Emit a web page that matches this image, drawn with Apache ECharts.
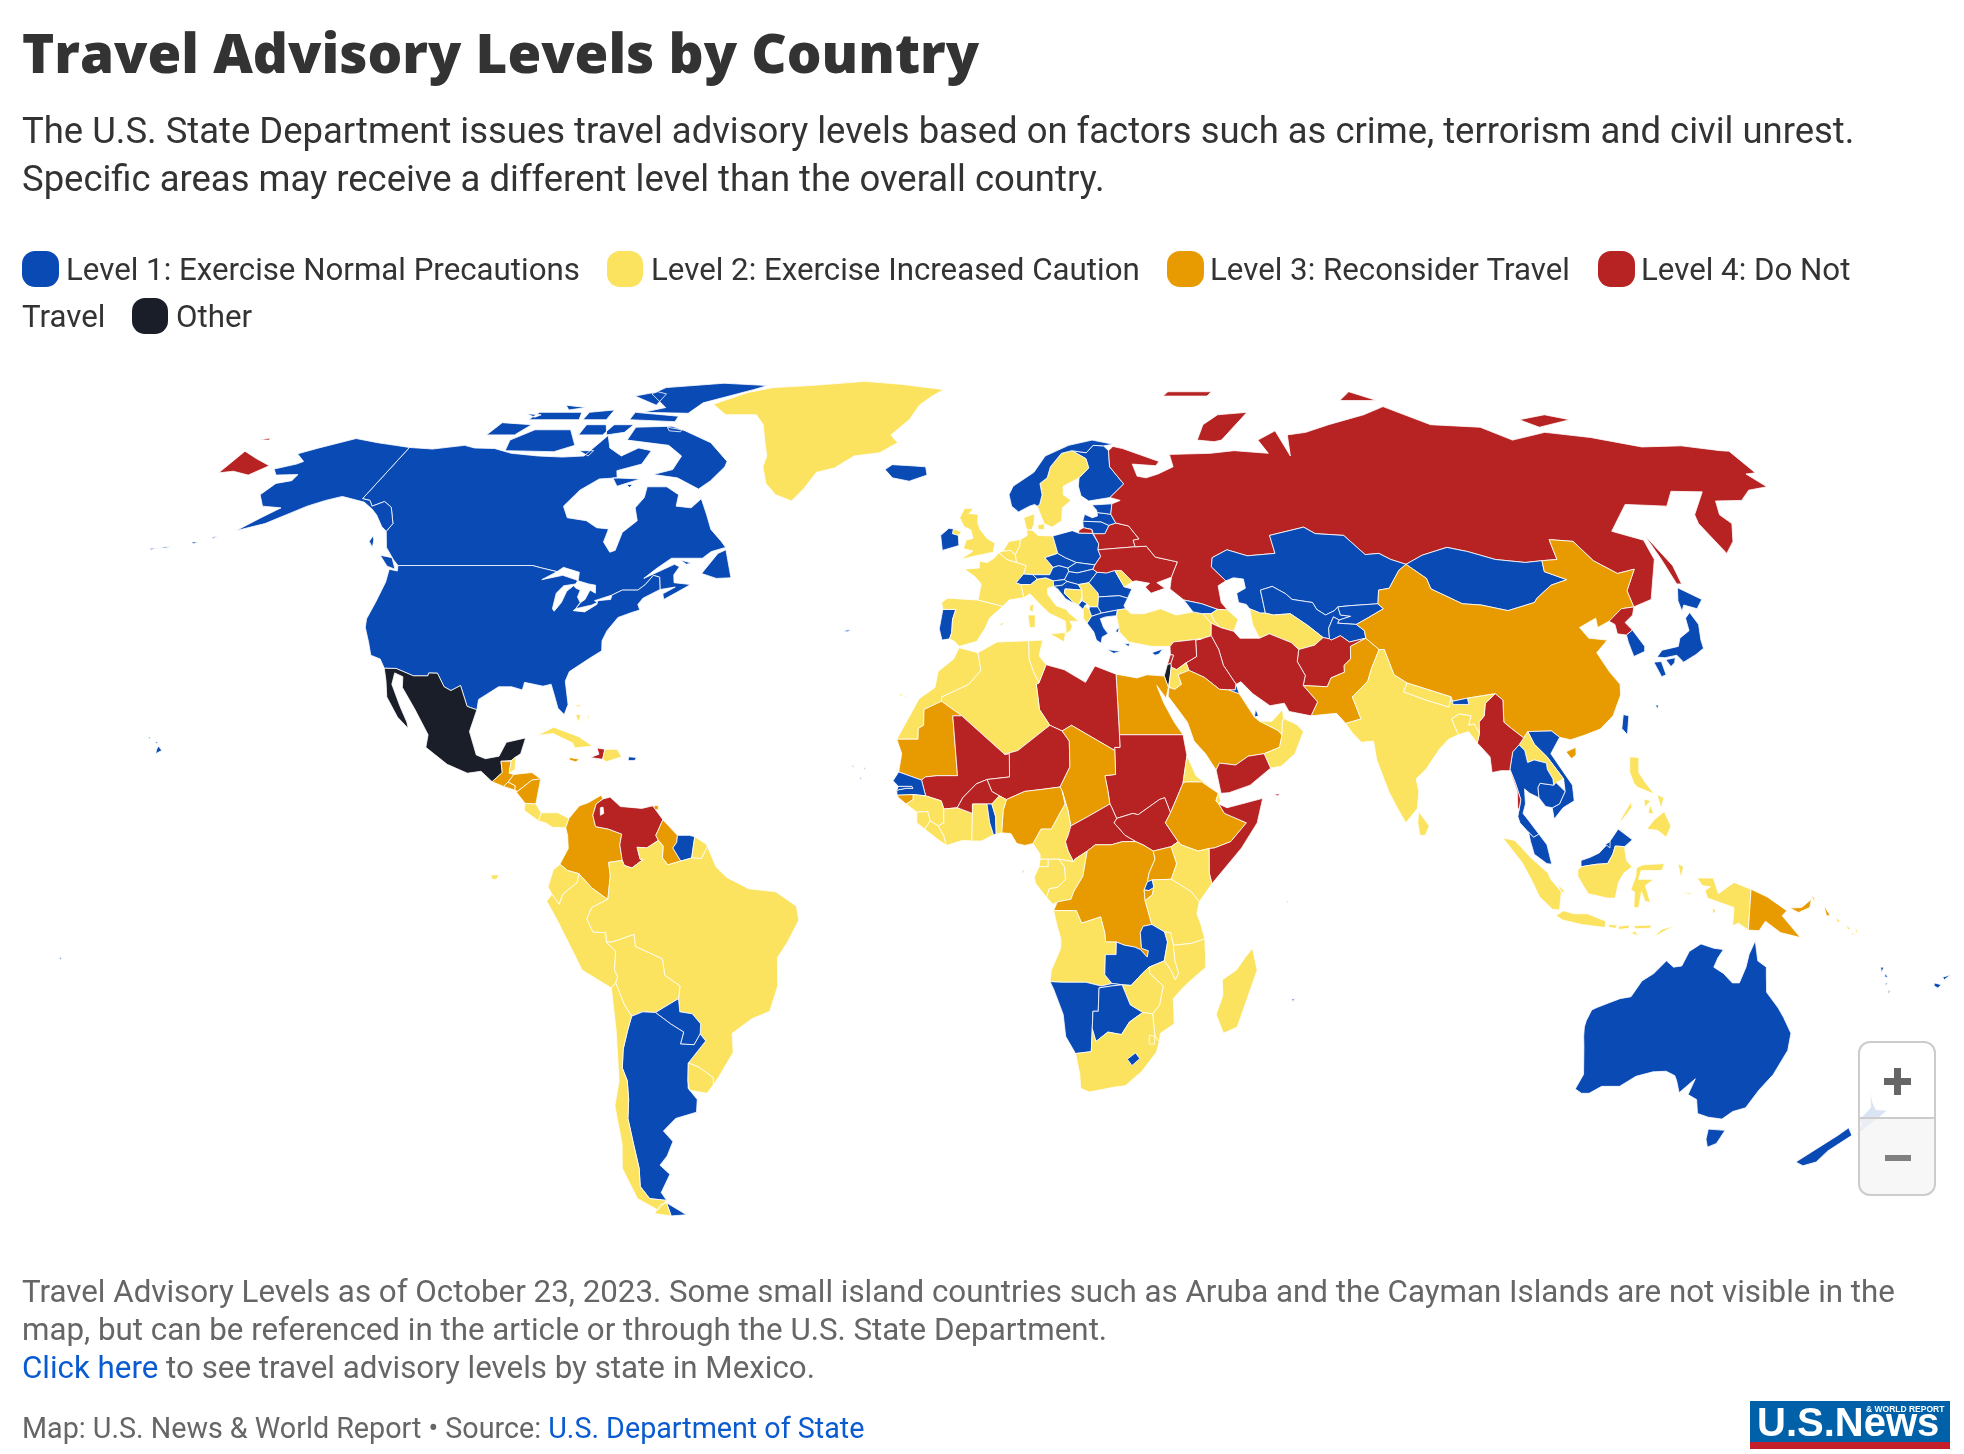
<!DOCTYPE html>
<html><head><meta charset="utf-8">
<style>html,body{margin:0;padding:0;background:#fff}#c{width:1964px;height:1454px}</style>
<script src="https://cdn.jsdelivr.net/npm/echarts@6/dist/echarts.min.js"></script>
</head><body><div id="c"></div>
<script>
const titleText='Travel Advisory Levels by Country';
const subtitleLines=['The U.S. State Department issues travel advisory levels based on factors such as crime, terrorism and civil unrest.','Specific areas may receive a different level than the overall country.'];
const legendNames=['Level 1: Exercise Normal Precautions','Level 2: Exercise Increased Caution','Level 3: Reconsider Travel','Level 4: Do Not','Travel','Other'];
const levelColors=['#0A4AB5','#FBE25F','#E89B00','#B72222','#1A1E29'];
const level1=['United States','Canada','Australia','New Zealand','Iceland','Ireland','Norway','Finland','Estonia','Latvia','Lithuania','Poland','Czechia','Slovakia','Hungary','Austria','Slovenia','Croatia','Switzerland','Portugal','Romania','Bulgaria','Greece','Cyprus','Montenegro','North Macedonia','Georgia','Kazakhstan','Uzbekistan','Kyrgyzstan','Tajikistan','Mongolia','South Korea','Japan','Taiwan','Vietnam','Thailand','Cambodia','Malaysia','Brunei','Bhutan','Kuwait','Qatar','Paraguay','Argentina','Suriname','Senegal','Gambia','Togo','Rwanda','Zambia','Namibia','Botswana','Lesotho','Fiji','Vanuatu','Puerto Rico','Mauritius','Cape Verde','Sao Tome','Seychelles','Samoa'];
const level2=['Greenland','Spain','France','Belgium','Netherlands','Germany','Denmark','United Kingdom','Italy','Sweden','Serbia','Bosnia','Albania','Moldova','Turkey','Armenia','Azerbaijan','Turkmenistan','Jordan','UAE','Oman','Tunisia','Algeria','Morocco','Guinea','Sierra Leone','Liberia','Ivory Coast','Ghana','Benin','Cameroon','Equatorial Guinea','Gabon','Congo','Eritrea','Djibouti','Kenya','Tanzania','Angola','Malawi','Mozambique','Zimbabwe','South Africa','Eswatini','Madagascar','India','Nepal','Bangladesh','Sri Lanka','Laos','Indonesia','Philippines','Solomon Islands','Belize','Costa Rica','Panama','Cuba','Dominican Republic','Bahamas','French Guiana','Ecuador','Peru','Brazil','Bolivia','Chile','Uruguay'];
const level3=['Guatemala','El Salvador','Honduras','Nicaragua','Jamaica','Trinidad','Colombia','Guyana','Mauritania','Guinea-Bissau','Nigeria','Chad','Egypt','Saudi Arabia','Ethiopia','Democratic Republic of the Congo','Uganda','Burundi','Pakistan','China','Papua New Guinea'];
const level4=['Russia','Belarus','Ukraine','Iran','Iraq','Syria','Lebanon','Afghanistan','Yemen','Libya','Mali','Niger','Burkina Faso','Sudan','South Sudan','Central African Republic','Somalia','Myanmar','North Korea','Venezuela','Haiti'];
const otherLevel=['Mexico','Israel'];
const noteLines=['Travel Advisory Levels as of October 23, 2023. Some small island countries such as Aruba and the Cayman Islands are not visible in the','map, but can be referenced in the article or through the U.S. State Department.'];
const outlines={
'Canada':"-141,69.6;-135,69.3;-128,70;-125,69.5;-120,69.4;-115,68.5;-108,68;-102,67.8;-97,68;-94.5,71.9;-92,69.5;-88,68;-85,69.5;-81.5,69;-82,66.5;-87,65.3;-86,64;-90,63.8;-93,61.8;-94.7,59;-92.5,57;-88,56.5;-85,55.3;-82.3,55.1;-82.2,52.9;-80,51.2;-79,51.5;-79,54.5;-76.8,56.5;-78.5,58.7;-77.5,60.5;-78,62.4;-73.5,62.4;-70,61;-69.5,59;-66,58.7;-64.5,60.3;-62,57.5;-60,55;-57,53;-55.7,52;-58.5,51.3;-60,50.2;-66.5,50.2;-69,48.5;-71,46.9;-65.5,49.2;-64.3,48.8;-65,47.5;-64.5,46.2;-61,45.9;-63.5,44.6;-65.7,43.5;-66.2,44.4;-64,45.5;-67,45.1;-67.8,47.1;-69.2,47.4;-70.3,45.9;-71.5,45;-74.7,45;-76.5,44.2;-79.7,43.3;-79,43;-79,42.85;-80,42.6;-83,42;-82.4,43;-81.7,43.5;-81.3,45;-80,44.5;-80.5,45.8;-82,46;-84.4,46.5;-84.8,47.9;-88.5,48.7;-89.5,48;-93,48.6;-95.15,49;-123.3,49;-125,50;-128,52;-130.3,54.7;-130,56;-133,58.8;-135.5,59.8;-137.5,59;-139,60;-141,60.3|-123.5,48.4;-125.5,48.9;-128.3,50.7;-125.5,50.3|-59.3,47.7;-57,51;-55.5,51.6;-53,47;-56,46.9|-62,66;-64,63.5;-66,62;-72,64;-78,64.6;-74,65.5;-73.5,68;-78,70;-89,71;-89,73.5;-80,73.7;-76,72.8;-68,70.5;-62,67|-117,69;-105,68.8;-101,70;-105,73;-114,73;-118,71|-125,72;-118,72;-116,74;-124,74.4|-90,76.5;-78,76.3;-76,78.5;-65,81.5;-62,82.5;-75,83.1;-90,82;-92,80.5;-85,77.5|-92,75;-80,74.6;-80,75.7;-92,76.5|-96,80;-88,78;-88,80.5;-91,81|-118,75;-105,75;-106,76.5;-117,76.5|-102,72;-96,72;-95,74;-102,74|-97,74;-90,74;-91,72.5;-95,72|-87,64;-80.5,63.8;-85,62.5|-104,75;-98,75;-98,77;-104,76.5|-132.5,54;-131.7,53.2;-131,52;-132.5,53|-99,69;-95.5,69;-96,68|-64.5,49.9;-62,49.4;-63,49.2|-83,62.8;-81.5,62.8;-82,62.3|-81,73.5;-77,73;-77,72.6;-80,72.8|-112,78;-106,77.5;-110,77|-120,76.2;-116,76;-117,75.5",
'United States':"-123.3,49;-95.15,49;-93,48.6;-89.5,48;-92,46.7;-88,47.4;-85,46.7;-84.5,46.5;-84.7,46;-87,45.7;-88,44.5;-87.7,42;-87.2,41.6;-86.3,43;-86,44.8;-85,45.7;-84.3,45.3;-83.3,45;-83.4,43.9;-82.5,43;-83,42;-83.4,41.7;-81,41.5;-79,42.7;-79,43.3;-76.5,43.5;-76.5,44.2;-74.7,45;-71.5,45;-70.3,45.9;-69.2,47.4;-67.8,47.1;-67,45.1;-70,43.7;-70.7,42.7;-70,41.8;-71.5,41.4;-74,40.6;-75.5,38.5;-76,36.9;-75.6,35.3;-77.5,34.2;-81,32;-81.4,30.5;-80,26.8;-80.4,25.2;-81.8,26.2;-82.8,28;-84,30;-85.5,29.7;-89.2,30.3;-89.3,29.1;-91.5,29.6;-94,29.6;-97.3,27.6;-97.2,25.95;-99.2,26.5;-101.4,29.8;-103,29;-104.5,29.6;-106.5,31.75;-108.2,31.78;-108.2,31.33;-111,31.33;-114.8,32.5;-117.1,32.53;-118.5,34;-120.6,34.6;-122,36.7;-123.8,39;-124.3,40.4;-124,43;-124,46.3;-124.7,48.4;-122.8,48.1|-141,69.6;-141,60.3;-139,60;-137.5,59;-135.5,59.8;-133,58.8;-130,56;-130.3,54.7;-132,55.5;-135,57.5;-137,58.5;-140,59.7;-146,60.7;-149,60;-152,59;-154,58;-158,56;-163,54.8;-160,57;-157.5,58.7;-162,59;-165,61;-164,63;-161,63.5;-161,64.6;-166,64.5;-168,65.6;-164,66.5;-163,67;-166.5,68.4;-163,69.5;-156.5,71.3;-150,70.5;-145,70|-156,19;-155,19.5;-155.8,20.2;-156,19.7|-158.2,21.5;-157.7,21.4;-158,21.7|-156.7,20.9;-156,20.8;-156.4,20.6|-167,53.6;-166,54;-166.5,53.5|-170.5,52.9;-169,52.9;-169.8,52.6|-176.5,52;-174,52.2;-175,51.9|-178.5,51.8;-177,51.9;-177.6,51.6",
'Greenland':"-73,78.2;-68,76;-60,76;-57,74;-55,71;-53,68;-53,66;-51,63;-48,61;-44,59.9;-42,62;-40,65;-36,65.8;-32,68;-26,68.6;-22,70.5;-24,72;-20,75;-18,78;-15,80;-12,81.5;-24,82.8;-35,83.6;-50,82.5;-60,82;-66,80.8",
'Iceland':"-24,65.5;-22,64;-18,63.4;-14,64.5;-14.5,66;-18,66.2;-22.5,66.4",
'Mexico':"-117.1,32.53;-114.8,32.5;-111,31.33;-108.2,31.33;-108.2,31.78;-106.5,31.75;-104.5,29.6;-103,29;-101.4,29.8;-99.2,26.5;-97.2,25.95;-97.8,22.5;-95.8,18.8;-94,18.2;-91.5,18.6;-90.5,20.8;-87,21.5;-87.5,19;-88.3,18.5;-89.1,17.9;-91,17.8;-90.5,16;-92.2,14.55;-94.5,16.2;-97,15.9;-101,17.3;-105.5,20;-105.5,22;-109,26;-112.5,29.5;-113,31.2;-114.8,31.8;-114.7,30;-112,26.5;-110,24;-109.5,23;-112,24.8;-115,28;-116,30.5",
'Guatemala':"-92.2,14.55;-90.5,16;-91,17.8;-89.1,17.8;-89.2,15.9;-88.3,15.7;-89.2,14.5;-90,13.8",
'Belize':"-89.1,17.9;-88.3,18.5;-88.2,16.5;-89.2,15.9;-89.1,17.8",
'El Salvador':"-90,13.8;-89.2,14.5;-87.8,13.9;-87.8,13.2",
'Honduras':"-89.2,14.5;-88.3,15.7;-85,16;-83.2,15;-84.8,14.8;-87.3,13;-87.8,13.2;-87.8,13.9",
'Nicaragua':"-87.6,13;-87.3,13;-84.8,14.8;-83.2,15;-83.7,11;-85.7,11.1",
'Costa Rica':"-85.7,11.1;-83.7,11;-82.6,9.6;-83,8.3;-85.8,10",
'Panama':"-83,8.3;-82.6,9.6;-79.5,9.6;-77.4,8.7;-77.9,7.2;-80.4,7.3;-81.7,8",
'Cuba':"-84.9,21.9;-82,23.2;-77,21.7;-74.2,20.2;-77.5,19.9;-78,20.7;-82,22.2",
'Jamaica':"-78.3,18.4;-76.3,18.1;-77,17.7;-78.2,18",
'Haiti':"-74.4,18.4;-72,18.1;-71.8,19.7;-73.3,19.9;-72.8,18.9",
'Dominican Republic':"-71.8,19.7;-72,18.1;-71.3,17.7;-68.5,18.5;-69.5,19.7",
'Puerto Rico':"-67.2,18.5;-65.7,18.4;-66,17.9;-67.2,17.9",
'Bahamas':"-78.2,25.2;-77.5,24;-77.2,25.2|-76,25;-75.3,24;-75.7,25|-78.8,26.7;-77.2,26.7;-78,26.4",
'Trinidad':"-61.9,10.1;-60.9,10.1;-61,10.8;-61.7,10.7",
'Colombia':"-77.9,7.2;-77.4,8.7;-75.6,10.7;-74,11.2;-71.7,12.4;-71.3,11.8;-72.5,11;-73,9.2;-72.4,7.4;-70,7;-67.5,6.2;-67.8,4.5;-67.3,2;-69.8,1.7;-69.5,-0.5;-70,-4.2;-70.7,-3.8;-72.9,-2.4;-75.3,-0.1;-77.4,0.4;-78.8,1.4;-77.3,3.9;-77.5,6",
'Venezuela':"-72.5,11;-71.3,11.8;-70,12.1;-68,10.6;-64,10.3;-62,10.7;-60,8.5;-60.7,7;-61.2,6;-60.7,5.2;-62.8,4;-64.6,4.1;-64,2.2;-63.4,2.2;-65.5,0.8;-66.9,1.2;-67.3,2;-67.8,4.5;-67.5,6.2;-70,7;-72.4,7.4;-73,9.2^-71.6,9.2;-71,9.5;-71.2,10.5;-71.7,10.4",
'Guyana':"-60,8.5;-57.2,6;-57.3,4.9;-58,4;-56.5,1.9;-58.9,1.3;-59.9,2.4;-59.8,4.3;-60.7,5.2;-61.2,6;-60.7,7",
'Suriname':"-57.2,6;-55,6;-54,5.8;-54.5,2.4;-56.5,1.9;-58,4;-57.3,4.9",
'French Guiana':"-54,5.8;-52,4.7;-51.6,4.2;-52.7,2.3;-54.5,2.4",
'Ecuador':"-78.8,1.4;-77.4,0.4;-75.3,-0.1;-75.6,-1.5;-78.3,-3.4;-79,-5;-80.3,-3.4;-81,-2.2;-80,0.5|-91.5,-0.3;-90,-0.3;-90.5,-1;-91.4,-1",
'Peru':"-81.3,-4.5;-80.3,-3.4;-79,-5;-78.3,-3.4;-75.6,-1.5;-75.3,-0.1;-72.9,-2.4;-70.7,-3.8;-70,-4.2;-73,-5.5;-74,-7.3;-73,-9.4;-70.6,-9.5;-70.6,-11;-69,-12.5;-69.5,-15.5;-69,-16.5;-69.5,-17.5;-70.4,-18.3;-75.5,-15.5;-77.2,-12;-79.5,-7.5",
'Brazil':"-51.6,4.2;-50,1;-48,-0.7;-44,-2.5;-39,-3;-35.2,-5.3;-34.8,-7.5;-37,-11;-39,-13.5;-39.2,-18;-41,-22;-44.5,-23.2;-48.5,-25.5;-48.7,-28.5;-52,-32.3;-53.4,-33.7;-53.2,-32.5;-55.8,-30.8;-57.6,-30.2;-53.7,-26.7;-54.6,-25.6;-54.3,-24;-55.7,-22.4;-58,-22.1;-58,-20;-57.5,-18;-60.2,-16.3;-60.4,-13.7;-65.3,-11.7;-65.4,-9.8;-69.5,-11;-70.6,-11;-70.6,-9.5;-73,-9.4;-74,-7.3;-73,-5.5;-70,-4.2;-69.5,-0.5;-69.8,1.7;-67.3,2;-66.9,1.2;-65.5,0.8;-63.4,2.2;-64,2.2;-64.6,4.1;-62.8,4;-60.7,5.2;-59.8,4.3;-59.9,2.4;-58.9,1.3;-56.5,1.9;-54.5,2.4;-52.7,2.3",
'Bolivia':"-69.5,-11;-65.4,-9.8;-65.3,-11.7;-60.4,-13.7;-60.2,-16.3;-57.5,-18;-58,-20;-62.6,-22.2;-65,-22.1;-67.2,-22.8;-68.3,-21;-69.5,-17.5;-69,-16.5;-69.5,-15.5;-69,-12.5;-70.6,-11",
'Paraguay':"-58,-20;-58,-22.1;-55.7,-22.4;-54.3,-24;-54.6,-25.6;-56,-27.3;-58.6,-27.2;-57.7,-25.3;-60,-24;-62.6,-22.2",
'Argentina':"-67.2,-22.8;-65,-22.1;-62.6,-22.2;-60,-24;-57.7,-25.3;-58.6,-27.2;-56,-27.3;-54.6,-25.6;-53.7,-26.7;-57.6,-30.2;-58.2,-33;-58.4,-34.2;-57,-36;-57.6,-38;-62,-39;-65,-41;-63.6,-42.7;-65.5,-45;-67.5,-46.5;-66,-48;-69,-51;-68.4,-52.3;-71.9,-52;-73,-50;-72,-47;-71.7,-43;-71.5,-39;-70.5,-36;-70,-33;-70.5,-31;-69.7,-28;-68.3,-25|-68.6,-52.7;-68.6,-54.9;-65.2,-54.7",
'Chile':"-69.5,-17.5;-68.3,-21;-67.2,-22.8;-68.3,-25;-69.7,-28;-70.5,-31;-70,-33;-70.5,-36;-71.5,-39;-71.7,-43;-72,-47;-73,-50;-71.9,-52;-68.4,-52.3;-71,-53.9;-74.5,-52;-75.5,-47;-74,-43;-73.5,-37;-71.6,-33;-70.5,-25;-70.4,-18.3|-68.6,-52.7;-68.6,-54.9;-72,-54.5;-70,-53",
'Uruguay':"-57.6,-30.2;-55.8,-30.8;-53.2,-32.5;-53.4,-33.7;-54.9,-35;-58.2,-34.5;-58.2,-33",
'Portugal':"-8.9,41.9;-6.3,41.9;-6.9,40.3;-7,38.2;-7.4,37.2;-8.9,37;-9.5,38.8|-28.5,38.5;-27,38.7;-27.8,38.3",
'Spain':"-9.2,43;-8,43.7;-1.8,43.4;3.2,42.4;0.5,40.5;-0.3,39;-2,36.8;-5.5,36;-6.4,36.8;-7.4,37.2;-7,38.2;-6.9,40.3;-6.3,41.9;-8.9,41.9|-16.8,28.4;-16.2,28.5;-16.6,28|-15.8,28.2;-15.3,28;-15.6,27.8|2.4,39.6;3.4,39.8;3,39.3",
'France':"-1.8,43.4;3.2,42.4;4.5,43.4;7.5,43.8;7,45.9;6,46.2;7.6,47.6;8.2,49;6.2,49.5;4.2,50;2.5,51.1;1.5,50.2;0,49.5;-1.6,49.7;-1.6,48.6;-4.7,48.4;-2.5,47.2;-1.2,46|8.6,41.8;9.2,41.4;9.5,42.8;8.7,42.5",
'Belgium':"2.5,51.1;3.4,51.4;5,51.5;6,50.8;6.2,49.5;4.2,50",
'Netherlands':"3.4,51.4;4.7,53;7.2,53.3;7,52.2;6,50.8;5,51.5",
'Germany':"7.2,53.3;8.7,54;8.6,55;10,54.8;11,54;14.2,53.9;14.7,52.1;15,51;12.2,50.3;13.8,48.7;13,47.5;7.6,47.6;8.2,49;6.2,49.5;6,50.8;7,52.2",
'Denmark':"8.6,55;8.1,57;10.5,57.7;10.3,56;9.7,54.9|11,55.7;12.5,56;12.5,55;11.2,55",
'United Kingdom':"-5.5,50;-3,50.5;1.3,51.2;1.7,52.7;0,53.5;-1.5,55;-2,56;-2,57.6;-4,57.7;-3,58.6;-5,58.6;-6,57;-5,55.5;-3.5,54.9;-3,53.5;-4.5,53.2;-5,51.8;-3,51.4|-7.3,55.1;-5.5,54.6;-6.2,54;-7.5,54.3",
'Ireland':"-6.2,54;-6,52.3;-9.5,51.5;-10,54;-8.3,55.2;-7.3,55.1;-7.5,54.3",
'Switzerland':"6,46.2;7,45.9;9,45.9;10.4,46.8;9.5,47.5;7.6,47.6",
'Italy':"7.5,43.8;8.8,44.4;10.5,42.9;12.5,41.3;15.7,40;15.7,38;16.6,38.5;17,39.2;16.6,40;18.4,40;16.5,41.3;16,41.9;14,42.5;12.4,44.3;12.4,45.3;13.7,45.6;13.7,46.5;12.2,47;10.4,46.8;9,45.9;7,45.9|12.5,38;15.6,38.2;15.2,36.7|8.2,41;9.7,41;9.6,39;8.5,39",
'Austria':"9.5,47.5;10.4,46.8;12.2,47;13.7,46.5;16,46.7;17,48;16.9,48.6;15,49;13.8,48.7;13,47.5",
'Czechia':"12.2,50.3;15,51;16.5,50.3;18.8,49.5;16.9,48.6;15,49;13.8,48.7",
'Poland':"14.2,53.9;18.5,54.8;19.8,54.4;22.8,54.35;23,54.3;23.9,52.6;23.6,51.6;24,50.5;22.6,49.1;18.8,49.5;16.5,50.3;15,51;14.7,52.1",
'Slovakia':"16.9,48.6;18.8,49.5;22.6,49.1;22.1,48.4;18.8,47.8;17,48",
'Hungary':"16,46.7;17,48;18.8,47.8;22.1,48.4;22.9,47.9;21,46.2;18.8,45.9;16.5,46.4",
'Slovenia':"13.7,45.6;13.7,46.5;16,46.7;16.5,46.4;15.5,45.8",
'Croatia':"13.7,45.6;15.5,45.8;16.5,46.4;18.8,45.9;19.4,45;16,45.2;15.8,44.5;17.6,43;18.5,42.5;16,43.6;14.5,45.2",
'Bosnia':"16,45.2;19.4,45;19.4,44;18.5,42.6;17.6,43;15.8,44.5",
'Serbia':"18.8,45.9;21,46.2;22.7,44.5;22.7,43.9;22.4,42.3;20.7,42.3;20.3,42.8;19.3,43.3;19.4,44;19.4,45",
'Montenegro':"18.5,42.6;19.3,43.3;20.3,42.8;19.8,42.5;19.4,41.9",
'Albania':"19.4,41.9;19.8,42.5;20.6,41.9;21,40.8;20,39.7;19.3,40.5",
'North Macedonia':"20.6,41.9;20.7,42.3;22.4,42.3;23,41.3;21,40.8",
'Romania':"21,46.2;22.9,47.9;24.9,47.8;26.6,48.2;28.2,45.5;29.7,45.2;28.6,43.7;27,44.1;22.7,43.9;22.7,44.5",
'Bulgaria':"22.7,43.9;27,44.1;28.6,43.7;27.7,42.5;28,42;26.3,41.8;23,41.3;22.4,42.3",
'Moldova':"26.6,48.2;28,48.2;30,46.4;28.2,45.5",
'Greece':"20,39.7;21,40.8;23,41.3;26.3,41.8;26,40.9;23.8,40.7;22.7,40.4;23.2,39;24,38;22.8,37.5;22.5,36.5;21.6,37;21.2,38.3|23.6,35.5;26.3,35.2;24.8,34.9|25.5,38.4;26.5,39.2;26,38.2|27,36.5;28.2,36.4;27.8,36",
'Cyprus':"32.3,35;34.5,35.6;33.7,34.8;32.9,34.6",
'Turkey':"26,40.9;26.3,41.8;28,42;29,41.2;31.5,41.2;35,42;38,41;41.5,41.5;43.4,41.2;44.8,39.7;44.4,37.7;42.4,37.2;36.8,36.7;36,36;32.5,36;30.5,36.3;28,36.7;26.3,38.3;26.2,39.5",
'Belarus':"23,54.3;25.5,54.3;26.6,55.7;28.2,56.1;30.9,55.6;32.7,53.4;31.4,53.2;31.6,52.1;23.6,51.6;23.9,52.6",
'Ukraine':"22.6,49.1;24,50.5;23.6,51.6;31.6,52.1;34,52.2;35.5,50.4;40,49.6;38.2,47.1;35,46.2;36.5,45.3;33.5,44.5;32.5,45.5;33.5,46.1;30.8,46.5;30,46.4;28,48.2;26.6,48.2;24.9,47.8;22.9,47.9;22.1,48.4",
'Lithuania':"21,55.3;21,56.4;25,56.3;26.6,55.7;25.5,54.3;23,54.3;22.8,54.35;22.8,55",
'Latvia':"21,56.4;21.6,57.6;23.2,57;24.4,57.3;24.4,57.9;27.4,57.6;28.2,56.1;26.6,55.7;25,56.3",
'Estonia':"23.5,59.2;28,59.4;27.4,57.6;24.4,57.9;24.4,58.3",
'Finland':"21.3,60.8;22.9,59.9;27.8,60.5;31.5,62.9;29,66;29.5,69;28.5,69.9;26,70;24,68.6;20.6,69;23.7,67.5;24,65.8;21.4,64;21,62.5",
'Sweden':"11.2,59;12.5,56;14.2,55.4;16.4,56.5;16.8,58.7;18.9,60;17.3,61;17.5,62.5;21.4,64;24,65.8;23.7,67.5;20.6,69;18,68.5;15,66;14,64;12.2,63;12.5,61;11.8,59.3",
'Norway':"5,61;5.5,59;7,58;9.5,59;10.7,59.3;11.2,59;11.8,59.3;12.5,61;12.2,63;14,64;15,66;18,68.5;20.6,69;24,68.6;26,70;28.5,69.9;31,70.2;26,71;20,70;14,68;11,65;6,62.5",
'Russia':"30.8,69.8;33,69.4;41,67;40,66.2;34.5,66.5;35,64.3;37,64;40,64.7;44,66;44,68.3;54,68.5;60,69;68,68.5;67,71;72.5,72.8;73,68;75,72;80,72.5;87,74;98,76;105,77.7;113,74;125,73.5;130,71;140,72.5;150,71.5;160,69.7;170,69.9;178,69;180,68.9;180,64.9;177.5,64.7;179,62.4;174,61.8;170,60;164,59.9;162,57.5;163,56;160,53;156.7,51;155.7,56;156.5,57.5;163,61.5;156,61.6;152,59;143,59.3;135.5,54.7;141,53.2;140.5,50;135,43.5;130.7,42.3;131,44.9;135,48.4;131,47.7;127.5,49.8;125.7,53;120.8,53.3;120,50;116.7,49.8;113,49.5;107,50;102,51.3;98,52;92,50.7;87.8,49.2;85,50;83,51;80,50.8;77,54;71,54.3;69,55.4;61,54;61,51;55,50.6;51,51.6;47.5,50.3;46.9,48.8;49.3,46.5;47.5,45.7;47.5,43;48.5,41.8;46.5,41.9;43.5,42.8;40,43.4;37.5,45.2;38.2,47.1;40,49.6;35.5,50.4;34,52.2;31.6,52.1;31.4,53.2;32.7,53.4;30.9,55.6;28.2,56.1;27.4,57.6;28,59.4;30,60;27.8,60.5;31.5,62.9;29,66;29.5,69|19.8,54.4;20,54.9;21,55.3;22.8,55;22.8,54.35|-180,68.9;-175,67.5;-170,66.2;-172.5,64.5;-177,65.2;-180,64.9|142,54;143.5,49;143,46;142,46;142,50|52,71;56,70.7;58,71;68,76.5;60,76;55,74|95,79;105,79;100,81|-180,71;-178,71.4;-177.5,71|137,75;145,76;150,75;140,73.5|48,80;60,80;62,81;50,81",
'Georgia':"40,43.4;43.5,42.8;46.5,41.9;45,41.2;43.4,41.2;41.5,41.5",
'Armenia':"43.4,41.2;45,41.2;45.5,40;46.5,39;44.8,39.7",
'Azerbaijan':"45,41.2;46.5,41.9;48.5,41.8;50.3,40.3;49,38.4;46.5,39;45.5,40",
'Kazakhstan':"46.9,48.8;49.3,46.5;51,47;53,46.8;53,45.3;51,44.5;51,43;52.5,42.7;53,42;55,41.3;56,41.3;56,45;58.6,45.6;61,44.4;62,43.5;66,43;66.5,41.9;68,41;70,41.7;70.9,42.3;73.5,42.5;79.2,42.8;80.2,45;82.5,45.3;85.8,48.2;87.8,49.2;85,50;83,51;80,50.8;77,54;71,54.3;69,55.4;61,54;61,51;55,50.6;51,51.6;47.5,50.3",
'Uzbekistan':"56,41.3;56,45;58.6,45.6;61,44.4;62,43.5;66,43;66.5,41.9;68,41;70,41.7;70.9,42.3;71,41;73,40.8;70.5,40.2;69.5,40.7;68,38.9;67.7,37.2;66.5,37.4;64,39.3;61,41.2;57.5,41",
'Turkmenistan':"53,42;55,41.3;56,41.3;57.5,41;61,41.2;64,39.3;66.5,37.4;64.5,36.2;61.2,35.5;60,36.6;56,38;53.9,37.3;53,39.5;53,41",
'Kyrgyzstan':"70.9,42.3;73.5,42.5;79.2,42.8;80,42;76,40.4;73.7,39.5;70,39.7;70.5,40.2;73,40.8;71,41",
'Tajikistan':"67.7,37.2;68,38.9;69.5,40.7;70.5,40.2;70,39.7;73.7,39.5;75,38.5;74.9,37.3;71.5,36.7;70,37.7;68,37",
'Afghanistan':"60.5,33.6;61.2,35.5;64.5,36.2;66.5,37.4;67.7,37.2;68,37;70,37.7;71.5,36.7;74.9,37.3;71.5,36;71,34;69.5,33;69.3,31.9;66.5,31;65.5,29.6;60.9,29.8;61.6,31.4",
'Pakistan':"61.6,25;66.5,25.4;68,23.8;71,24.5;70,28;73.5,30.5;74.7,32.5;77,35.5;74.9,37.3;71.5,36;71,34;69.5,33;69.3,31.9;66.5,31;65.5,29.6;60.9,29.8;63.2,27.2",
'Iran':"44.8,39.7;46.5,39;49,38.4;50,37.3;53.9,37.3;56,38;60,36.6;61.2,35.5;60.5,33.6;61.6,31.4;60.9,29.8;63.2,27.2;61.6,25;57.5,25.7;56.8,27;54,26.6;51,28.5;49,30.4;48,30;46,33;45.5,35.5;44.4,37.7",
'Iraq':"38.8,33.4;41,34.4;41.2,37;42.4,37.2;44.4,37.7;45.5,35.5;46,33;48,30;47.7,29.1;46.5,29.1;44.7,29.2;42,31.1;39.2,32.2",
'Syria':"36,36;36.8,36.7;42.4,37.2;41.2,37;41,34.4;38.8,33.4;36.8,32.3;35.8,32.7;35.8,33.3;36.5,34.6;35.9,34.7",
'Lebanon':"35.9,34.7;36.5,34.6;35.8,33.3;35.1,33.1",
'Israel':"34.3,31.3;34.9,29.5;35,29.5;35.5,31.5;35.8,32.7;35.8,33.3;35.1,33.1",
'Jordan':"35,29.5;36.1,29.2;37.5,30;37,31.5;39.2,32.2;38.8,33.4;36.8,32.3;35.8,32.7;35.5,31.5",
'Saudi Arabia':"34.7,28.1;35,29.5;36.1,29.2;37.5,30;37,31.5;39.2,32.2;42,31.1;44.7,29.2;46.5,29.1;48.4,28.5;49.5,26.8;50.8,24.8;51.6,24.2;55,22.7;55.7,22;55,20;52,19;49,18.6;46.5,17.2;43.5,17.5;42.8,16.4;41,19;39,21;38,24;36,26.5",
'Kuwait':"46.5,29.1;47.7,29.1;48,30;48.4,28.5",
'Qatar':"50.8,24.8;51.2,26.1;51.6,25",
'UAE':"51.6,24.2;54,24.1;56.3,26;56.3,24.6;56,24;55.7,22;55,22.7",
'Oman':"56.3,24.6;58.7,23.6;59.8,22.5;57.8,19;55,17;53,16.7;52,19;55,20;55.7,22;56,24",
'Yemen':"42.8,16.4;43.5,17.5;46.5,17.2;49,18.6;52,19;53,16.7;49,14;45,12.8;43.5,12.7|53.3,12.6;54.5,12.6;54,12.3",
'Egypt':"25,31.6;29,31;31,31.5;34.3,31.3;34.9,29.5;34.3,27.8;32.7,29.8;33.8,27;35.5,24;37,22;31.3,22;25,22",
'Sudan':"24,19.5;24,20;25,20;25,22;31.3,22;37,22;37.5,18.7;36.5,14.3;35.6,12.6;34,9.6;33,12;32,11.7;28,9.3;27,9.5;24,8.7;23,10.7;22.8,11;22.5,13;22,15.5;24,15.7",
'South Sudan':"24,8.7;27,9.5;28,9.3;32,11.7;33,12;34,9.6;33,8;35.3,5;34,4.2;30.7,3.5;29,4.4;27.5,5;25.5,6;23.5,8",
'Eritrea':"36.5,14.3;37.5,18.7;39,15.5;43,12.7;40,14.5;37,14.5",
'Ethiopia':"36.5,14.3;37,14.5;40,14.5;43,12.7;42.5,11.5;43,11;44,9.5;48,8;45,5;42,4;41,3.9;39,3.5;35.8,4.5;35.3,5;33,8;34,9.6;35.6,12.6",
'Djibouti':"43,12.7;43.4,11.5;43,11;42.5,11.5",
'Somalia':"43,11;44.5,10.4;51.2,11.9;50,8;47,4;41.5,-1.7;41,0;41,3.9;42,4;45,5;48,8;44,9.5",
'Libya':"10,30.2;11.5,33.1;15,32.3;19,30.3;21,32.9;25,31.6;25,22;25,20;24,20;24,19.5;16,23.5;14.2,22.6;11.9,23.5;10,26;9.5,30",
'Tunisia':"8.2,36.9;11,37;10.2,34.5;11.5,33.1;10,30.2;9,32;8.2,34",
'Algeria':"-1.8,35;2,36.7;8.2,36.9;8.2,34;9,32;10,30.2;9.5,30;10,26;11.9,23.5;5.8,19.5;3.3,18.9;-4.8,25;-8.7,27.3;-8.7,28;-3.5,30;-1.2,32.2",
'Morocco':"-1.8,35;-5.5,35.8;-6.5,34;-9.5,32;-10,29.5;-13,27.7;-17,21.3;-13,21.3;-13,23;-12,23.5;-12,26;-8.7,27.3;-8.7,28;-3.5,30;-1.2,32.2",
'Mauritania':"-17,21.3;-13,21.3;-13,23;-12,23.5;-12,26;-8.7,27.3;-4.8,25;-6.5,25;-5.5,15.5;-9.3,15.5;-11.5,15.3;-12.2,14.8;-16.5,16.1;-16,19",
'Mali':"-4.8,25;3.3,18.9;4.2,19;4.2,15.3;0,14.9;-2,14.2;-4.5,12;-5.5,10.4;-8,10.2;-8.5,11.5;-11.4,12.3;-12.2,14.8;-11.5,15.3;-9.3,15.5;-5.5,15.5;-6.5,25",
'Niger':"3.3,18.9;5.8,19.5;11.9,23.5;14.2,22.6;15.5,21;15.5,16.9;13.6,13.7;10,13.3;7,13;3.6,11.7;2.3,12.3;0.9,13;0,14.9;4.2,15.3;4.2,19",
'Chad':"14.2,22.6;16,23.5;24,19.5;24,15.7;22,15.5;22.5,13;22.8,11;18.7,9;15.5,7.5;15,10;14,13;13.6,13.7;15.5,16.9;15.5,21",
'Nigeria':"2.7,6.4;4.4,6.3;5.5,4.7;7,4.4;8.5,4.7;10,7;11.9,7;13.5,9.5;14.5,11;14,13;13.6,13.7;10,13.3;7,13;3.6,11.7;3,10",
'Senegal':"-17.5,14.7;-16.5,16.1;-12.2,14.8;-11.4,12.3;-13.7,12.5;-16.7,12.4;-16.8,13.2;-15,13.5;-13.8,13.5;-14,13.8;-16.5,13.8",
'Gambia':"-16.8,13.2;-15,13.5;-13.8,13.5;-14,13.8;-16.5,13.8",
'Guinea-Bissau':"-16.7,12.4;-13.7,12.5;-13.7,11.7;-15,11;-16.4,12",
'Guinea':"-13.7,12.5;-11.4,12.3;-8.5,11.5;-8,10.2;-8,8;-9,7.5;-10.5,8.3;-11,9.8;-13,9.7;-15,11;-13.7,11.7",
'Sierra Leone':"-13,9.7;-11,9.8;-10.5,8.3;-11.5,7;-13,8",
'Liberia':"-11.5,7;-10.5,8.3;-9,7.5;-8,6;-7.5,4.4;-9.3,5.5",
'Ivory Coast':"-8,8;-8,10.2;-5.5,10.4;-2.7,9.5;-2.8,5.1;-4.5,5.2;-7.5,4.4;-8,6;-9,7.5",
'Burkina Faso':"-5.5,10.4;-4.5,12;-2,14.2;0,14.9;0.9,13;2.3,12.3;0.9,11;0,11;-2.7,11;-2.7,9.5",
'Ghana':"-2.7,9.5;-2.7,11;0,11;0.5,8;1.2,6.1;-1,5.1;-2.8,5.1",
'Togo':"0,11;0.9,11;1.6,9;1.7,6.2;1.2,6.1;0.5,8",
'Benin':"0.9,11;2.3,12.3;3.6,11.7;3,10;2.7,6.4;1.7,6.2;1.6,9",
'Cameroon':"8.5,4.7;9.8,3;9.8,2.2;11.3,2.2;13.3,2.2;16,1.8;15,3.5;14.5,5;15,6;15.5,7.5;15,10;14,13;14.5,11;13.5,9.5;11.9,7;10,7",
'Central African Republic':"14.5,5;15,3.5;16,1.8;16.2,2.2;18.5,3.5;20,4.5;23,4.5;25,5;27.5,5;25.5,6;23.5,8;24,8.7;23,10.7;22.8,11;18.7,9;15.5,7.5;15,6",
'Equatorial Guinea':"9.8,2.2;11.3,2.2;11.3,1;9.6,1",
'Gabon':"8.7,-0.7;9.6,1;11.3,1;11.3,2.2;13.3,2.2;14.3,1;14.5,-1;13,-2.3;11.5,-2.5;11,-3.9;9,-1.7",
'Congo':"11,-3.9;11.5,-2.5;13,-2.3;14.5,-1;14.3,1;13.3,2.2;16,1.8;16.2,2.2;18.5,3.5;17.7,-0.5;16,-3;15.5,-4.2;13,-4.6;12.2,-5",
'Democratic Republic of the Congo':"12.3,-6;13,-4.6;15.5,-4.2;16,-3;17.7,-0.5;18.5,3.5;20,4.5;23,4.5;25,5;27.5,5;29,4.4;30.7,3.5;31,2.2;29.9,0;29.6,-1.4;29,-2.7;29.2,-4.4;30.5,-8.2;28.9,-8.5;28.4,-9.5;28.7,-12;30,-12.4;29.8,-13.4;28.5,-12.2;27.4,-11.8;25.5,-11.5;24,-11;22,-11;21.8,-9.5;21,-7;17.5,-8;16.5,-6",
'Uganda':"31,2.2;30.7,3.5;34,4.2;35,1.5;34,-1;30.5,-1.1;29.6,-1.4;29.9,0",
'Rwanda':"29.6,-1.4;30.5,-1.1;30.8,-2.3;29.9,-2.8;29,-2.7",
'Burundi':"29,-2.7;29.9,-2.8;30.8,-2.3;30.5,-3.5;29.2,-4.4",
'Kenya':"34,4.2;35.3,5;35.8,4.5;39,3.5;41,3.9;41,0;41.5,-1.7;39.2,-4.6;37.7,-3;34,-1;35,1.5",
'Tanzania':"30.5,-1.1;34,-1;37.7,-3;39.2,-4.6;38.8,-6.5;39.5,-8;40.4,-10.5;38,-11.2;35,-11.5;34.6,-11.5;34,-9.5;32.9,-9.4;30.5,-8.2;29.2,-4.4;30.5,-3.5;30.8,-2.3",
'Angola':"12.3,-6;16.5,-6;17.5,-8;21,-7;21.8,-9.5;22,-11;24,-11;24,-13;22,-13;22,-16.2;23.4,-17.6;21.4,-18;18.5,-17.4;14,-17.4;11.8,-17.3;12,-15.5;13.7,-12;13.7,-10.5;13,-8.5",
'Zambia':"22,-13;24,-13;24,-11;25.5,-11.5;27.4,-11.8;28.5,-12.2;29.8,-13.4;30,-12.4;28.7,-12;28.4,-9.5;28.9,-8.5;30.5,-8.2;32.9,-9.4;33.5,-11;33,-14;30.2,-15;29,-16;27,-17.9;25.3,-17.8;23.4,-17.6;22,-16.2",
'Malawi':"32.9,-9.4;34,-9.5;34.6,-11.5;35,-14;35.8,-16;35.2,-17;34.3,-15.5;33,-14;33.5,-11",
'Mozambique':"40.4,-10.5;40.8,-15;37,-18;35,-20;35.5,-24;33,-25.5;32.9,-26.8;32,-26;31.3,-22.4;32.5,-21;33,-18;30.4,-16;30.2,-15;33,-14;34.3,-15.5;35.2,-17;35.8,-16;35,-14;34.6,-11.5;35,-11.5;38,-11.2",
'Zimbabwe':"25.3,-17.8;27,-17.9;29,-16;30.2,-15;30.4,-16;33,-18;32.5,-21;31.3,-22.4;29.4,-22.2;27,-21",
'Namibia':"11.8,-17.3;14,-17.4;18.5,-17.4;21.4,-18;23.4,-17.6;25.3,-17.8;23.3,-18;21,-18.3;21,-22;20,-22;20,-28.4;17,-28.7;15,-26;14.4,-22.5;12.5,-18.5",
'Botswana':"21,-18.3;23.3,-18;25.3,-17.8;27,-21;29.4,-22.2;27,-23.7;25.6,-25.7;23,-25.3;20.8,-26.8;20,-24.8;20,-22;21,-22",
'South Africa':"17,-28.7;20,-28.4;20,-24.8;20.8,-26.8;23,-25.3;25.6,-25.7;27,-23.7;29.4,-22.2;31.3,-22.4;32,-26;32.9,-26.8;32.5,-28.5;30,-31.5;27,-33.8;25,-34;20,-34.8;18.3,-34.2;18,-32",
'Lesotho':"27,-29.6;28.5,-28.6;29.4,-29.5;28,-30.6",
'Eswatini':"30.9,-25.8;32,-26;32,-27.2;31,-27.2",
'Madagascar':"49.3,-12;50.4,-15.5;47.5,-24.5;45,-25.5;43.3,-22.5;44.3,-19.5;44,-17;46.5,-15.5;48,-13.5",
'Mongolia':"87.8,49.2;92,50.7;98,52;102,51.3;107,50;113,49.5;116.7,49.8;116,48;119.8,46.7;116,45.8;111.9,43.7;111,43;105,41.7;100,42.6;96.3,42.8;91,45.2;90.9,46.9",
'China':"74.9,37.3;75,38.5;73.7,39.5;76,40.4;80,42;79.2,42.8;80.2,45;82.5,45.3;85.8,48.2;87.8,49.2;90.9,46.9;91,45.2;96.3,42.8;100,42.6;105,41.7;111,43;111.9,43.7;116,45.8;119.8,46.7;116,48;116.7,49.8;120,50;120.8,53.3;125.7,53;127.5,49.8;131,47.7;135,48.4;131,44.9;130.7,42.3;128,42;124.4,40;121.6,39;122,40.5;118,39;119,37.3;122.5,37;119.5,35;120.7,32;122,30;121.5,28.3;119,25;116,22.9;113,22;110,21.2;108,21.6;106.7,22.6;102.2,22.5;101.2,21.5;99.2,23;98,24;98.7,27.5;97.5,28.5;92,27.8;89,27.3;88.9,28;81,30.2;78.8,31.5;78,35.5;77,35.5|108.7,19.3;110.7,20;110.5,18.8;109.5,18.2",
'North Korea':"124.4,40;128,42;130.7,42.3;129.7,41;127.5,39.8;128.3,38.6;126.7,37.8;125,38;125.3,39.5",
'South Korea':"126.7,37.8;128.3,38.6;129.4,36;129,35.2;126.5,34.4;126.5,36.7",
'Japan':"131,34.3;132.5,35.4;136,36;137,37.3;139.5,38.5;140,40.5;141.4,41.4;142,39.5;141,37;140.8,35.7;138.8,34.7;135.8,33.5;135,34.6;132.5,34.2|130,33.5;131.5,33.6;131.5,31.5;130.5,31.2|132.5,33.9;134.5,34.2;134,33.4;133,32.8|140,41.6;140.3,43.3;141.7,45.4;145.3,43.5;143.3,42;141,42.6|127.6,26.7;128.2,26.7;127.8,26.1",
'Taiwan':"121,25.2;122,25;120.9,22;120.1,23",
'Philippines':"120.5,18.5;122.2,18.4;121.7,16;122.5,14.6;124,12.6;121,13.7;120.5,14.3;120,16|122,7;123.5,8.5;125.5,9.8;126.5,7.5;125.5,5.7;124,6.8|124.5,12.5;125.7,12;125,10.3|122,11.8;123.2,11.5;122,10.5|123,11;123.5,9.5;122.5,9.5|117.2,8.4;119.5,11.3;119.6,10.5;117.5,8.4",
'Vietnam':"102.2,22.5;106.7,22.6;108,21.6;105.8,19;109,14;109,11.5;106.8,10.4;105,8.6;104.8,10.4;106.2,11;107.5,13;107.5,15;105,18.5;103,20.5",
'Laos':"101.2,21.5;102.2,22.5;103,20.5;105,18.5;107.5,15;106,14.4;105.5,14;105.5,15;104.7,16.5;104.7,17.5;102.5,18;101.2,17.6;101,19.5;100.1,20.4",
'Cambodia':"102.5,12;102.5,13.6;103,14.3;105.5,14;106,14.4;107.5,13;106.2,11;104.8,10.4;103.6,10.6",
'Thailand':"100.1,20.4;101,19.5;101.2,17.6;102.5,18;104.7,17.5;104.7,16.5;105.5,15;105.5,14;103,14.3;102.5,13.6;102.5,12;100.9,12.7;100,13.4;99.9,11;99.3,9.5;100.3,8.3;101.5,6.8;102,6.2;101,5.7;100.1,6.5;98.6,8;98.3,9;98.6,10;99.1,11.7;98.5,14;98.2,15;97.7,16.5;98.7,19.3",
'Myanmar':"92.3,20.7;93,22.2;93.3,24;94.5,25;95.2,27;97.5,28.5;98.7,27.5;98,24;99.2,23;101.2,21.5;100.1,20.4;98.7,19.3;97.7,16.5;98.2,15;98.5,14;99.1,11.7;98.6,10;98.4,10.5;98.6,13;97.7,16.3;96,16.3;94.3,16;94.3,18.5",
'Malaysia':"100.1,6.5;101,5.7;102,6.2;103.4,4.5;104.2,1.4;103.3,1.5;101,3;100.4,5|109.6,2;111.3,2.5;113,3.2;115,5;116.7,7;119.2,5.3;117.7,4.2;116,4.3;115.5,3;114.5,1.5;112.5,1.4;111,1.2;109.6,1",
'Brunei':"114.2,4.6;115.1,5;115,4",
'Indonesia':"109,0.5;109.6,1;111,1.2;112.5,1.4;114.5,1.5;115.5,3;116,4.3;117.7,4.2;118,2;119,1;117.5,0;116.5,-1.5;116,-4;114.5,-4;111,-3.3;110,-2;109,-0.5|95.3,5.6;97.5,5.2;100.4,2.4;103.5,0;104,-1;106,-3;105.8,-5.9;104.5,-5.8;102,-3.8;100.4,-1;98.7,1.7|105.2,-6.8;106.5,-6;108.5,-6.5;111,-6.5;114.5,-7.7;114.4,-8.7;110,-8.2;106.5,-7.5|119.8,0.8;121,1.3;125,1.5;124.5,0.4;120.7,0.4;120.2,-1;123,-1;121.5,-2;122.5,-4.7;121.5,-4.5;120.8,-3;120.4,-5.5;119.5,-5.5;119.5,-3;118.8,-2.7;119.7,-0.5|127.5,1.5;128.5,1;128,-0.8|131,-0.8;134,-0.8;135,-3.3;137.8,-1.5;141,-2.6;141,-9.1;139,-8;138,-8.4;138,-5.5;133,-4;132.5,-2.8;133.5,-2.2;132,-2|128,-3;130.8,-3.3;129.5,-3.4|123.5,-10.3;124.9,-9;127.3,-8.4;125,-9.5|119.8,-8.4;123,-8.3;122.8,-8.8;120,-8.9|116.8,-8.5;119,-8.3;118.8,-8.8;117,-9|115,-8.2;116.6,-8.3;116.5,-8.8;115.2,-8.7|119.2,-9.6;120.8,-10;120,-9.3|105.3,-1.8;106.7,-3;106,-3.1|134,-5.5;134.7,-6;134.2,-6.5",
'Papua New Guinea':"141,-2.6;144,-3.8;147.8,-6;147,-6.8;150.8,-10.3;147,-9.5;144,-7.7;143,-9.2;141,-9.1|148.3,-5.6;150.5,-5.5;152.2,-4.2;152,-5.5;150,-6.3|150.8,-2.7;152.7,-4;153,-4.7;152,-3.5|154.6,-5.2;155.9,-6.8;155.2,-6.8",
'Solomon Islands':"157,-7;158,-7.8;157.3,-7.8|159,-8.2;160,-9;159.4,-9|160.7,-8.4;161.3,-9.5;160.9,-9.5|160,-9.4;161,-9.9;160.3,-9.8",
'India':"68,23.8;71,24.5;70,28;73.5,30.5;74.7,32.5;77,35.5;78,35.5;78.8,31.5;81,30.2;80,28.8;84,27.5;88.1,26.4;88.9,28;89,27.3;89,26.8;92,26.8;92,27.8;97.5,28.5;95.2,27;94.5,25;93.3,24;93,22.2;92.3,23.7;91.2,23.5;92,25;89.8,25.3;88.2,24.5;89,22;87,21.3;85,19.7;82,16.5;80,15;80.3,13;79.8,10.3;77.5,8;76,10.5;74.7,13;73,18;72.8,21;70.5,20.8;69,22.3",
'Nepal':"80,28.8;81,30.2;88.9,28;88.1,26.4;84,27.5",
'Bhutan':"89,27.3;89,26.8;92,26.8;92,27.8",
'Bangladesh':"88.2,24.5;89.8,25.3;92,25;91.2,23.5;92.3,23.7;93,22.2;92.3,20.7;91,22.5;89,22",
'Sri Lanka':"80,9.8;81.8,7.5;81,6;80,6;79.7,8",
'Australia':"114.1,-21.8;113.5,-23.5;113.4,-24.5;113.7,-26;114.2,-27.5;115,-30;115.7,-32;115,-34.3;116.5,-35;118,-35;120,-33.9;123.5,-33.9;126,-32.3;129,-31.6;131.5,-31.5;133.5,-32.2;134.2,-33;135.6,-34.9;137.7,-32.7;137.5,-35.2;139.6,-36;141,-38.2;143.5,-38.8;146.4,-39.1;147.8,-37.9;150,-37.3;151,-34.5;152.5,-32;153.5,-28.2;153,-25.5;150.7,-23;149.2,-21.5;146.3,-19;145.5,-16;145.3,-15;143.5,-14;142.5,-10.8;141.7,-13;141.5,-15;140.8,-17.5;139.5,-17.5;137.5,-16;135.5,-15;136,-13.5;136.8,-12.2;135,-12;132.5,-11.3;130.5,-12.5;129.5,-14.8;128,-15;126.5,-14;124.5,-16;122.5,-17.2;121,-19.7;119,-20;117,-20.7;115,-21.4|144.7,-40.7;148.2,-40.9;147.9,-43;146.5,-43.6;145.3,-42.3",
'New Zealand':"172.8,-34.5;174.6,-36.5;176,-37.6;178.4,-37.7;177,-39.5;175.3,-41.6;174.8,-39.9;173.8,-39.2;174.7,-37.3|172.7,-40.5;174.3,-41.7;171.5,-44.2;170.7,-46;168.5,-46.6;166.5,-46;169,-43.8;171.5,-41.7",
'Fiji':"177.3,-17.5;178.7,-17.8;178.2,-18.3;177.4,-18|178.6,-16.6;180,-16.2;179,-17",
'Vanuatu':"166.6,-15;167.2,-15;167,-15.9|167.8,-16;168.4,-16.7;167.7,-16.5|168.2,-17.5;168.6,-17.6;168.3,-17.9|169.1,-18.6;169.4,-18.9;169.1,-19.2",
'Mauritius':"57.3,-20.1;57.8,-20;57.6,-20.5",
'Cape Verde':"-25.3,17.1;-24.9,17.1;-25,16.8|-23.7,15.3;-23.4,15.1;-23.6,14.9|-23,16.8;-22.7,16.7;-22.9,16.5",
'Sao Tome':"6.5,0.4;6.8,0.3;6.6,0.05",
'Seychelles':"55.3,-4.5;55.6,-4.6;55.5,-4.8",
'Samoa':"-172.7,-13.5;-172.2,-13.5;-172.4,-13.8"
};
function decode(text){
  return text.split('|').map(poly=>poly.split('^').map(r=>r.split(';').map(p=>p.split(',').map(Number))));
}
const geoJson={type:'FeatureCollection',features:Object.keys(outlines).map(name=>({type:'Feature',properties:{name},geometry:{type:'MultiPolygon',coordinates:decode(outlines[name])}}))};
echarts.registerMap('world',geoJson);

// Natural Earth projection, in page pixels
const R=356.7,CX=987,CY=873,D=Math.PI/180;
function lenF(p){const p2=p*p,p4=p2*p2,p10=p4*p4*p2,p12=p10*p2;return .8707-.131979*p2-.013791*p4+.003971*p10-.001529*p12;}
function heightF(p){const p2=p*p,p6=p2*p2*p2,p8=p6*p2,p10=p8*p2;return p*(1.007226+.015085*p2-.044475*p6+.028874*p8-.005916*p10);}
const projection={
  project(c){const p=c[1]*D;return [CX+R*lenF(p)*c[0]*D,CY-R*heightF(p)];},
  unproject(c){const h=(CY-c[1])/R;let p=h;for(let i=0;i<8;i++){p+=(h-heightF(p))/1.0;}return [(c[0]-CX)/(R*lenF(p))/D,p/D];}
};
let minX=1e9,minY=1e9,maxX=-1e9,maxY=-1e9;
geoJson.features.forEach(f=>f.geometry.coordinates.forEach(poly=>poly.forEach(ring=>ring.forEach(pt=>{
  const q=projection.project(pt);minX=Math.min(minX,q[0]);maxX=Math.max(maxX,q[0]);minY=Math.min(minY,q[1]);maxY=Math.max(maxY,q[1]);
}))));

const mapData=[];
[level1,level2,level3,level4,otherLevel].forEach((names,i)=>names.forEach(name=>mapData.push({name,value:i+1,itemStyle:{areaColor:levelColors[i],color:levelColors[i]}})));

const BODY='Roboto, sans-serif';
function txt(text,x,y,size,fill,extra){return {type:'text',z:50,silent:true,style:{text,x,y,font:`${(extra&&extra.weight)||400} ${size}px ${(extra&&extra.family)||BODY}`,fill,textVerticalAlign:'middle',textBaseline:'middle'}};}
function swatch(x,y,w,h,fill){return {type:'rect',z:50,silent:true,shape:{x,y,width:w,height:h,r:13},style:{fill}};}
const elements=[
  txt(titleText,22,57,54.7,'#333333',{weight:800,family:'"Open Sans", sans-serif'}),
  txt(subtitleLines[0],22,134,36.45,'#333333'),
  txt(subtitleLines[1],22,182,36.45,'#333333'),
  swatch(22,251,37,36,levelColors[0]),txt(legendNames[0],66,272,31.25,'#333333'),
  swatch(607,251,36,36,levelColors[1]),txt(legendNames[1],651,272,31.25,'#333333'),
  swatch(1167,251,37,36,levelColors[2]),txt(legendNames[2],1210,272,31.25,'#333333'),
  swatch(1598,251,37,36,levelColors[3]),txt(legendNames[3],1641,272,31.25,'#333333'),
  txt(legendNames[4],22,319,31.25,'#333333'),
  swatch(132,298,36,36,levelColors[4]),txt(legendNames[5],176,319,31.25,'#333333'),
  txt(noteLines[0],22,1294,31.3,'#666666'),
  txt(noteLines[1],22,1332,31.3,'#666666'),
  {type:'text',z:50,silent:true,style:{x:22,y:1370,text:'{a|Click here}{b| to see travel advisory levels by state in Mexico.}',textBaseline:'middle',textVerticalAlign:'middle',rich:{a:{fontSize:31.3,fontFamily:'Roboto',fill:'#0A5AD0'},b:{fontSize:31.3,fontFamily:'Roboto',fill:'#666666'}}}},
  {type:'text',z:50,silent:true,style:{x:22,y:1431,text:'{b|Map: U.S. News & World Report • Source: }{a|U.S. Department of State}',textBaseline:'middle',textVerticalAlign:'middle',rich:{a:{fontSize:28.7,fontFamily:'Roboto',fill:'#0A5AD0'},b:{fontSize:28.7,fontFamily:'Roboto',fill:'#666666'}}}},
  // zoom control
  {type:'rect',z:40,silent:true,shape:{x:1859,y:1042,width:76,height:76,r:[11,11,0,0]},style:{fill:'rgba(255,255,255,0.85)',stroke:'#cccccc',lineWidth:2}},
  {type:'rect',z:40,silent:true,shape:{x:1859,y:1118,width:76,height:77,r:[0,0,11,11]},style:{fill:'rgba(247,247,247,0.95)',stroke:'#cccccc',lineWidth:2}},
  {type:'rect',z:41,silent:true,shape:{x:1884,y:1078,width:27,height:7},style:{fill:'#666666'}},
  {type:'rect',z:41,silent:true,shape:{x:1894,y:1068,width:7,height:27},style:{fill:'#666666'}},
  {type:'rect',z:41,silent:true,shape:{x:1885,y:1155,width:26,height:6},style:{fill:'#808080'}},
  // logo
  {type:'rect',z:40,silent:true,shape:{x:1750,y:1401,width:200,height:41},style:{fill:'#0061A8'}},
  {type:'rect',z:40,silent:true,shape:{x:1750,y:1442,width:200,height:7},style:{fill:'#C21F2B'}},
  txt('U.S.News',1757,1425,40,'#ffffff',{weight:700,family:'"Liberation Sans", sans-serif'}),
  txt('& WORLD REPORT',1866,1410,8.5,'#ffffff',{weight:700,family:'"Liberation Sans", sans-serif'})
];
const chart=echarts.init(document.getElementById('c'),null,{renderer:'canvas',width:1964,height:1454});
chart.setOption({
  animation:false,
  backgroundColor:'#ffffff',
  tooltip:{show:false},
  series:[{type:'map',map:'world',projection,roam:false,silent:true,
    left:minX,top:minY,width:maxX-minX,height:maxY-minY,
    label:{show:false},
    itemStyle:{areaColor:'#ffffff',borderColor:'#ffffff',borderWidth:0.8},
    emphasis:{disabled:true},select:{disabled:true},
    data:mapData}],
  graphic:{elements}
});
</script></body></html>
